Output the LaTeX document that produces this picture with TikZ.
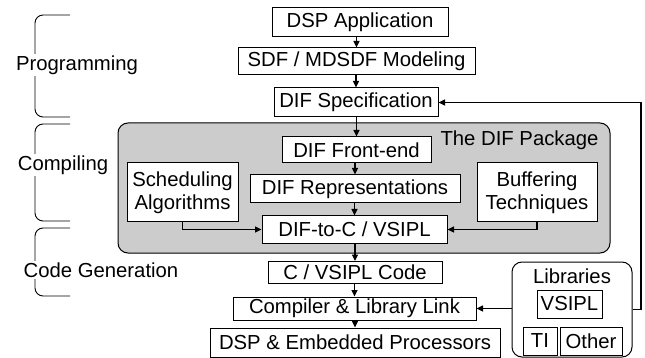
\documentclass[tikz,border=0pt]{standalone}
\usepackage{fontspec}
\setmainfont{Liberation Sans}
\usetikzlibrary{arrows.meta}
\begin{document}
\begin{tikzpicture}[x=1pt,y=-1pt,
  box/.style={draw, fill=white, line width=1pt, inner sep=0pt, align=center,
    font=\fontsize{20.3}{23}\selectfont},
  arr/.style={-{Triangle[length=6.5pt,width=6pt]}, line width=1.1pt},
  lbl/.style={font=\fontsize{20.3}{23}\selectfont, fill=white, inner sep=2pt},
  brace/.style={line width=0.9pt, rounded corners=8pt}]
\useasboundingbox (0,0) rectangle (645,358);
% left braces
\draw[brace] (70,15) -- (35,15) -- (35,117) -- (70,117);
\draw[brace] (70,124) -- (35,124) -- (35,221) -- (70,221);
\draw[brace] (70,228) -- (35,228) -- (35,296) -- (70,296);
\node[lbl] (tprog) at (77,65) {Programming};
\node[lbl] (tcomp) at (63,165) {Compiling};
\node[lbl] (tcode) at (101,270) {Code Generation};
% package
\node[draw, fill=gray!40, line width=1pt, rounded corners=10pt, minimum width=492pt, minimum height=130pt, inner sep=0pt] (pkg) at (364,188) {};
\node[font=\fontsize{20.3}{23}\selectfont, inner sep=0pt] (pkgt) at (519.5,140) {The DIF Package};
% libraries
\node[draw, fill=white, line width=1pt, rounded corners=10pt, minimum width=120pt, minimum height=95pt, inner sep=0pt] (libs) at (572,309.5) {};
\node[font=\fontsize{20.3}{23}\selectfont, inner sep=0pt] (libt) at (572,276) {Libraries};
% main chain
\node[box, minimum width=176pt, minimum height=29pt] (dspapp) at (360,22.5) {DSP Application};
\node[box, minimum width=237pt, minimum height=27pt] (sdf) at (356.5,61.5) {SDF / MDSDF Modeling};
\node[box, minimum width=164pt, minimum height=29pt] (difspec) at (356,102.5) {DIF Specification};
\node[box, minimum width=149pt, minimum height=26pt] (front) at (356.5,150) {DIF Front-end};
\node[box, minimum width=111pt, minimum height=59pt] (sched) at (182.5,192.5) {Scheduling\\Algorithms};
\node[box, minimum width=210pt, minimum height=28pt] (reps) at (355,189) {DIF Representations};
\node[box, minimum width=120pt, minimum height=59pt] (buff) at (537,192.5) {Buffering\\Techniques};
\node[box, minimum width=185pt, minimum height=27pt] (difc) at (354.5,229.5) {DIF-to-C / VSIPL};
\node[box, minimum width=174pt, minimum height=22pt] (ccode) at (355,272.5) {C / VSIPL Code};
\node[box, minimum width=243pt, minimum height=23pt] (comp) at (354.5,308.5) {Compiler \& Library Link};
\node[box, minimum width=290pt, minimum height=29pt] (dspemb) at (355,342.5) {DSP \& Embedded Processors};
\node[box, minimum width=65pt, minimum height=28pt] (vsipl) at (569.5,304) {VSIPL};
\node[box, minimum width=34pt, minimum height=28pt] (ti) at (540,341) {TI};
\node[box, minimum width=62pt, minimum height=28pt] (other) at (591,341) {Other};
\coordinate (fb) at (641,200);
% connectors
\draw[arr] (dspapp.south -| sdf.north) -- (sdf.north);
\draw[arr] (sdf.south -| difspec.north) -- (difspec.north);
\draw[arr] (difspec.south -| front.north) -- (front.north);
\draw[arr] (front.south -| reps.north) -- (reps.north);
\draw[arr] (reps.south -| difc.north) -- (difc.north);
\draw[arr] (difc.south -| ccode.north) -- (ccode.north);
\draw[arr] (ccode.south -| comp.north) -- (comp.north);
\draw[arr] (comp.south -| dspemb.north) -- (dspemb.north);
\draw[arr] (sched.south) |- (difc.west);
\draw[arr] (buff.south) |- (difc.east);
\draw[arr] (libs.west |- comp.east) -- (comp.east);
\draw[arr] (libs.east) -- (libs.east -| fb) |- (difspec.east);
\end{tikzpicture}
\end{document}
